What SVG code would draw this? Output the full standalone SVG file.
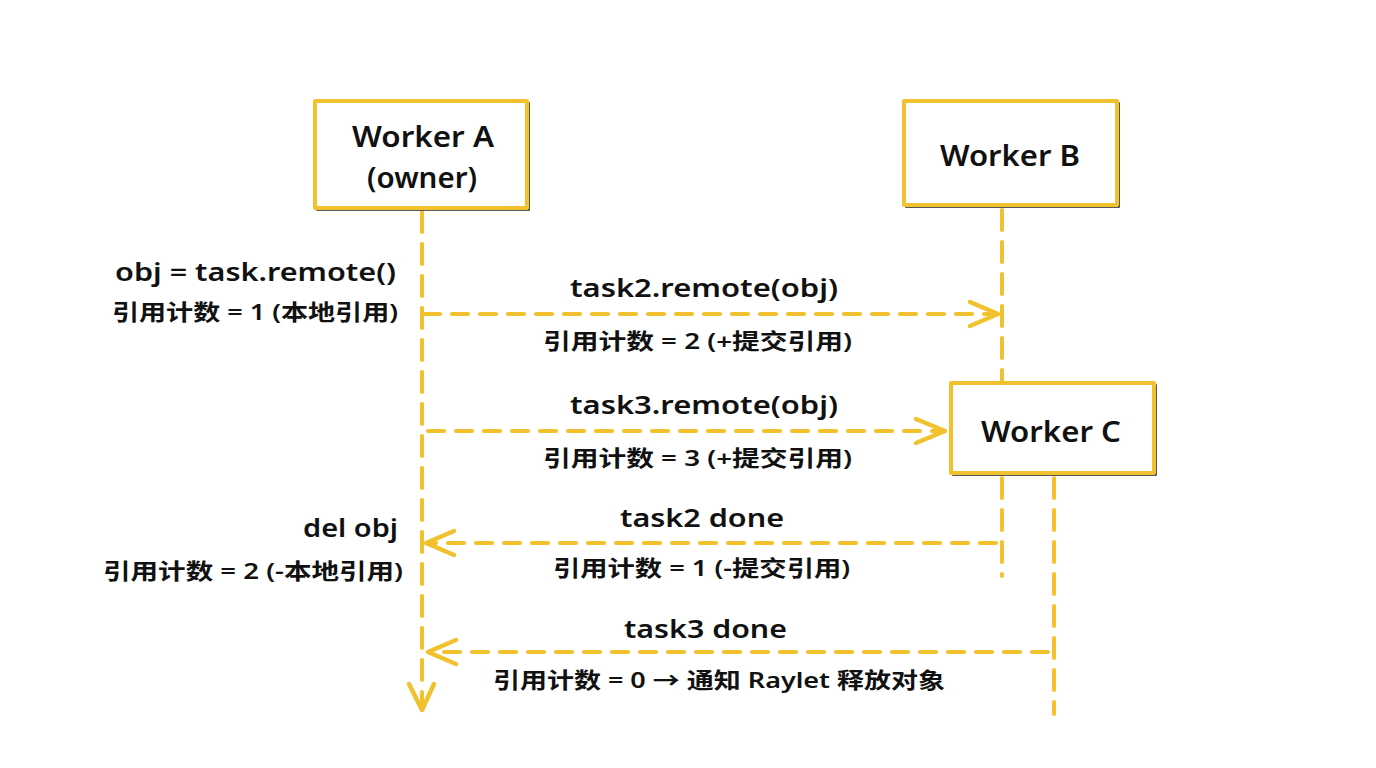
<svg xmlns="http://www.w3.org/2000/svg" width="1376" height="768" viewBox="0 0 1376 768">
<defs>
<style>
.t{font-family:"Noto Sans","Noto Sans CJK SC",sans-serif;fill:#111;}
.h{font-size:28px;font-weight:600;}
.m{font-size:26px;font-weight:600;}
.s{font-size:22px;font-weight:600;}
.box{fill:#fff;stroke:#f2c12e;stroke-width:4;stroke-linejoin:round;}
.edge{fill:none;stroke:#222;stroke-width:1.5;}
.life{stroke:#f2c12e;stroke-width:4;stroke-dasharray:20 12;stroke-linecap:round;fill:none;}
.msg{stroke:#f2c12e;stroke-width:4;stroke-dasharray:16 12;stroke-linecap:round;fill:none;}
.head{stroke:#f2c12e;stroke-width:4.5;stroke-linecap:round;stroke-linejoin:round;fill:none;}
</style>
</defs>
<rect width="1376" height="768" fill="#fff"/>
<g id="connectors">
<path class="life" d="M422 212 V708"/>
<path class="head" d="M409 684 L422 710 L434 684"/>
<path class="life" d="M1002 210 V380"/>
<path class="life" d="M1002 478 V576"/>
<path class="life" d="M1054 478 V714"/>
<path class="msg" d="M424 314 H996"/>
<path class="head" d="M970 302 L998 314 L970 326"/>
<path class="msg" d="M428 431 H944"/>
<path class="head" d="M916 419 L945 431 L916 443"/>
<path class="msg" d="M996 543 H430"/>
<path class="head" d="M454 531 L426 543 L454 555"/>
<path class="msg" d="M1048 652 H432"/>
<path class="head" d="M456 640 L428 652 L456 664"/>
</g>
<g id="workerA">
<rect class="edge" x="317" y="103" width="212" height="107"/>
<rect class="box" x="315" y="101" width="212" height="107"/>
<text class="t h" x="352" y="147" textLength="142" lengthAdjust="spacingAndGlyphs">Worker A</text>
<text class="t h" x="367" y="188" textLength="110" lengthAdjust="spacingAndGlyphs">(owner)</text>
</g>
<g id="workerB">
<rect class="edge" x="906" y="103" width="213" height="104"/>
<rect class="box" x="904" y="101" width="213" height="104"/>
<text class="t h" x="940" y="166" textLength="140" lengthAdjust="spacingAndGlyphs">Worker B</text>
</g>
<g id="workerC">
<rect class="edge" x="953" y="385" width="203" height="90"/>
<rect class="box" x="951" y="383" width="203" height="90"/>
<text class="t h" x="981" y="442" textLength="140" lengthAdjust="spacingAndGlyphs">Worker C</text>
</g>
<g id="labels">
<text class="t m" x="115" y="281" textLength="281" lengthAdjust="spacingAndGlyphs">obj = task.remote()</text>
<text class="t s" x="112" y="320" textLength="286" lengthAdjust="spacingAndGlyphs">引用计数 = 1 (本地引用)</text>
<text class="t m" x="570" y="297" textLength="268" lengthAdjust="spacingAndGlyphs">task2.remote(obj)</text>
<text class="t s" x="543" y="349" textLength="309" lengthAdjust="spacingAndGlyphs">引用计数 = 2 (+提交引用)</text>
<text class="t m" x="570" y="414" textLength="268" lengthAdjust="spacingAndGlyphs">task3.remote(obj)</text>
<text class="t s" x="543" y="466" textLength="309" lengthAdjust="spacingAndGlyphs">引用计数 = 3 (+提交引用)</text>
<text class="t m" x="303" y="537" textLength="95" lengthAdjust="spacingAndGlyphs">del obj</text>
<text class="t s" x="103" y="579" textLength="300" lengthAdjust="spacingAndGlyphs">引用计数 = 2 (-本地引用)</text>
<text class="t m" x="620" y="527" textLength="164" lengthAdjust="spacingAndGlyphs">task2 done</text>
<text class="t s" x="553" y="576" textLength="297" lengthAdjust="spacingAndGlyphs">引用计数 = 1 (-提交引用)</text>
<text class="t m" x="624" y="638" textLength="163" lengthAdjust="spacingAndGlyphs">task3 done</text>
<text class="t s" x="493" y="688" textLength="452" lengthAdjust="spacingAndGlyphs">引用计数 = 0 → 通知 Raylet 释放对象</text>
</g>
</svg>
